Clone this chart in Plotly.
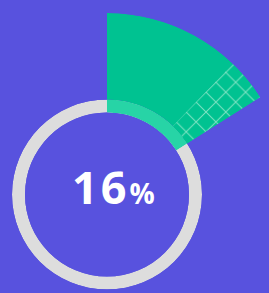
import math
import plotly.graph_objects as go

# ---- data ----
labels = ["Progress"]
values = [16]          # percent shown
hatch_from = [12.2]    # percent where the hatched zone starts
total = [100]

W, H = 269, 293
BG = "#5852DE"
GREEN = "#00C291"
GREEN_LIGHT = "#27D4A6"
GREY = "#DDDDDD"
HATCH = "#8CE6C8"

cx, cy = 107, 194.5          # pixel centre (from top-left)
r_in, r_ring, r_out = 82, 95, 181.5

deg = lambda p: p * 360.0 / total[0]
v = values[0]
band = (r_ring - r_in) / (r_out - r_in)

fig = go.Figure()

# grey ring
fig.add_trace(go.Barpolar(
    r=[1], theta=[180], width=[360], base=[0],
    marker=dict(color=GREY, line=dict(width=0)),
    subplot="polar", hoverinfo="skip", showlegend=False))

# light band of wedge (over the ring)
fig.add_trace(go.Barpolar(
    r=[band], base=[0], theta=[deg(v) / 2], width=[deg(v)],
    marker=dict(color=GREEN_LIGHT, line=dict(width=0)),
    subplot="polar2", hoverinfo="skip", showlegend=False))

# main wedge
fig.add_trace(go.Barpolar(
    r=[1 - band], base=[band], theta=[deg(v) / 2], width=[deg(v)],
    marker=dict(color=GREEN, line=dict(width=0)),
    subplot="polar2", hoverinfo="skip", showlegend=False))

# hatched zone
h0 = hatch_from[0]
fig.add_trace(go.Barpolar(
    r=[1 - band], base=[band], theta=[deg(h0 + v) / 2], width=[deg(v - h0)],
    marker=dict(color=GREEN, line=dict(width=0),
                pattern=dict(shape="x", size=14, solidity=0.14,
                             fgcolor=HATCH, fgopacity=0.9)),
    subplot="polar2", hoverinfo="skip", showlegend=False))

sec0 = 90 - deg(v)
xr = math.cos(math.radians(sec0)) if sec0 > 0 else 1

fig.update_layout(
    width=W, height=H,
    margin=dict(l=0, r=0, t=0, b=0),
    paper_bgcolor=BG, plot_bgcolor=BG,
    polar=dict(
        domain=dict(x=[(cx - r_ring) / W, (cx + r_ring) / W],
                    y=[(H - cy - r_ring) / H, (H - cy + r_ring) / H]),
        hole=r_in / r_ring, bgcolor="rgba(0,0,0,0)",
        radialaxis=dict(range=[0, 1], visible=False),
        angularaxis=dict(visible=False, rotation=90, direction="clockwise")),
    polar2=dict(
        domain=dict(x=[cx / W, (cx + r_out * xr) / W],
                    y=[(H - cy) / H, (H - cy + r_out) / H]),
        sector=[sec0, 90],
        hole=r_in / r_out, bgcolor="rgba(0,0,0,0)",
        radialaxis=dict(range=[0, 1], visible=False),
        angularaxis=dict(visible=False, rotation=90, direction="clockwise")),
    annotations=[dict(
        x=113 / W, y=1 - 187 / H, xref="paper", yref="paper",
        xanchor="center", yanchor="middle", showarrow=False,
        text=(f"<b><span style='letter-spacing:3px'>{v}</span></b>"
              "<b><span style='font-size:28px'>%</span></b>"),
        font=dict(family="Open Sans, Noto Sans, sans-serif", size=45, color="white"))],
)

fig.write_html("out.html", config={"displayModeBar": False},
               post_script="document.body.style.margin='0';document.body.style.overflow='hidden';")
